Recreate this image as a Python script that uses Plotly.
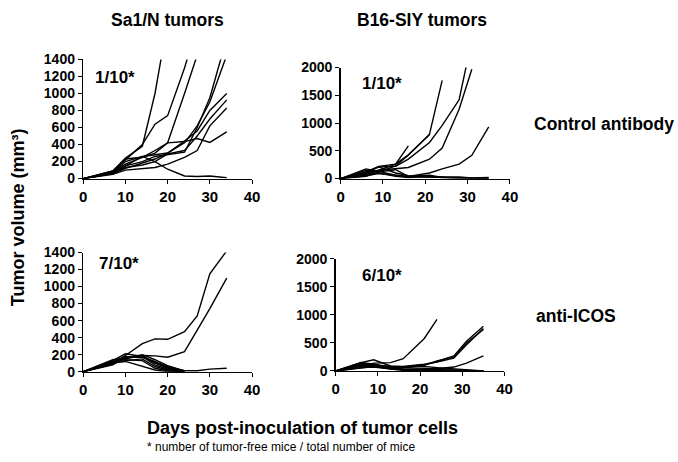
import plotly.graph_objects as go

# ---------------- data ----------------
sa_days = [0, 7, 10, 14, 17, 20, 24, 27, 30, 34]
b16_days = [0, 6, 9, 13, 16, 21, 24, 28, 31, 35]

sa_control = [
    [0, 90, 240, 380, 1000, 1850],
    [0, 90, 220, 400, 640, 740, 1300, 1800],
    [0, 80, 170, 250, 300, 420, 1000, 1450],
    [0, 70, 150, 200, 260, 280, 310, 600, 950, 1650],
    [0, 60, 120, 180, 230, 300, 420, 620, 900, 1450],
    [0, 70, 200, 260, 280, 300, 440, 560, 800, 1000],
    [0, 60, 130, 160, 200, 290, 330, 500, 700, 925],
    [0, 50, 100, 120, 130, 170, 250, 330, 620, 830],
    [0, 70, 230, 250, 330, 420, 435, 470, 425, 550],
    [0, 70, 150, 260, 200, 110, 30, 25, 30, 10],
]
sa_icos = [
    [0, 100, 190, 330, 385, 380, 470, 655, 1150, 1420],
    [0, 110, 170, 190, 185, 170, 235, 480, 740, 1100],
    [0, 130, 210, 180, 80, 30, 10, 10, 30, 40],
    [0, 120, 150, 190, 100, 40, 0],
    [0, 110, 130, 150, 60, 20, 0],
    [0, 90, 180, 170, 120, 60, 10],
    [0, 100, 120, 60, 20, 0, 0],
    [0, 140, 160, 200, 140, 70, 10],
    [0, 80, 170, 170, 110, 50, 10],
    [0, 120, 140, 130, 40, 10, 0],
]
b16_control = [
    [0, 100, 150, 260, 590],
    [0, 150, 120, 230, 420, 800, 1770],
    [0, 100, 210, 220, 350, 650, 960, 1420, 2500],
    [0, 60, 150, 180, 200, 350, 550, 1250, 1970],
    [0, 40, 120, 160, 40, 100, 175, 260, 420, 930],
    [0, 120, 220, 260, 430, 790],
    [0, 175, 130, 60, 30, 20, 20, 10, 10, 20],
    [0, 120, 210, 100, 50, 30, 20, 0, 0, 0],
    [0, 80, 100, 40, 20, 40, 30, 30, 10, 0],
    [0, 50, 90, 60, 40, 60, 20, 10, 0, 0],
]
b16_icos = [
    [0, 100, 140, 150, 220, 580, 920],
    [0, 90, 110, 60, 70, 110, 170, 270, 530, 800],
    [0, 150, 200, 90, 80, 120, 160, 230, 470, 760],
    [0, 120, 110, 80, 60, 100, 180, 250, 500, 740],
    [0, 60, 80, 40, 30, 40, 40, 70, 140, 270],
    [0, 150, 120, 60, 30, 30, 20, 20, 10, 0],
    [0, 110, 100, 50, 20, 10, 0, 0, 0, 0],
    [0, 80, 90, 40, 30, 20, 10, 10, 0, 0],
    [0, 130, 110, 70, 60, 80, 60, 40, 20, 0],
    [0, 60, 70, 30, 10, 0, 0, 0, 0, 0],
]

x_ticks = [0, 10, 20, 30, 40]
sa_yticks = [0, 200, 400, 600, 800, 1000, 1200, 1400]
b16_yticks = [0, 500, 1000, 1500, 2000]
ratios = ["1/10*", "1/10*", "7/10*", "6/10*"]

# ---------------- figure ----------------
W, H = 678, 462
fig = go.Figure()

panels = [
    (sa_days, sa_control, "x", "y"),
    (b16_days, b16_control, "x2", "y2"),
    (sa_days, sa_icos, "x3", "y3"),
    (b16_days, b16_icos, "x4", "y4"),
]
for days, series, xa, ya in panels:
    for s in series:
        fig.add_trace(go.Scatter(
            x=days[:len(s)], y=s, mode="lines", xaxis=xa, yaxis=ya,
            line=dict(color="black", width=1.4), showlegend=False,
            hoverinfo="skip"))

def px_x(p):
    return p / W

def px_y(p):
    return 1 - p / H

FAM = "Liberation Sans, Arial, sans-serif"
xtickfont = dict(family=FAM, size=15, color="black", weight="bold")
ytickfont = dict(family=FAM, size=14, color="black", weight="bold")
axis_common = dict(showline=True, linecolor="black", linewidth=1.5, ticks="outside",
                   ticklen=4, tickwidth=1, tickcolor="black", showgrid=False,
                   zeroline=False, fixedrange=True)

# domains (pixel-based)
xdom_left = [px_x(80.7), px_x(252.5)]
xdom_tr = [px_x(342.7), px_x(515.0)]
xdom_br = [px_x(337.7), px_x(509.5)]
ydom_tl = [px_y(176.7), px_y(53.3)]
ydom_tr = [px_y(176.7), px_y(61.7)]
ydom_bl = [px_y(376.7), px_y(253.3)]
ydom_br = [px_y(376.0), px_y(260.0)]

def xax(dom, anchor):
    return dict(domain=dom, anchor=anchor, range=[0, 40], tickvals=x_ticks,
                tickfont=xtickfont, **axis_common)

def yax(dom, anchor, rng, tv):
    return dict(domain=dom, anchor=anchor, range=rng, tickvals=tv,
                tickfont=ytickfont, **axis_common)

fig.update_layout(
    width=W, height=H, margin=dict(l=0, r=0, t=0, b=0),
    paper_bgcolor="white", plot_bgcolor="white", showlegend=False,
    xaxis=xax(xdom_left, "y"),
    yaxis=yax(ydom_tl, "x", [0, 1400], sa_yticks),
    xaxis2=xax(xdom_tr, "y2"),
    yaxis2=yax(ydom_tr, "x2", [0, 2000], b16_yticks),
    xaxis3=xax(xdom_left, "y3"),
    yaxis3=yax(ydom_bl, "x3", [0, 1400], sa_yticks),
    xaxis4=xax(xdom_br, "y4"),
    yaxis4=yax(ydom_br, "x4", [0, 2000], b16_yticks),
)

def txt(x, y, s, size, bold=True, angle=0, xanchor="center"):
    f = dict(family=FAM, color="black", size=size)
    if bold:
        f["weight"] = "bold"
    fig.add_annotation(x=px_x(x), y=px_y(y), xref="paper", yref="paper", text=s,
                       showarrow=False, font=f, textangle=angle, xanchor=xanchor,
                       yanchor="middle")

txt(166, 12, "Sa1/N tumors", 17.5)
txt(426, 12, "B16-SIY tumors", 17.5)
txt(538, 120, "Control antibody", 17.5, xanchor="left")
txt(540, 319, "anti-ICOS", 17.5, xanchor="left")
txt(15, 217, "Tumor volume (mm³)", 18, angle=-90)
txt(144, 435, "Days post-inoculation of tumor cells", 18, xanchor="left")
txt(144, 455, "* number of tumor-free mice / total number of mice", 12, bold=False, xanchor="left")

txt(91, 72, ratios[0], 17, xanchor="left")
txt(362, 78, ratios[1], 17, xanchor="left")
txt(95, 265, ratios[2], 17, xanchor="left")
txt(362, 277, ratios[3], 17, xanchor="left")

fig.write_html("out.html",
               config={"displayModeBar": False, "staticPlot": True},
               post_script="document.body.style.margin='0';document.body.style.overflow='hidden';")
